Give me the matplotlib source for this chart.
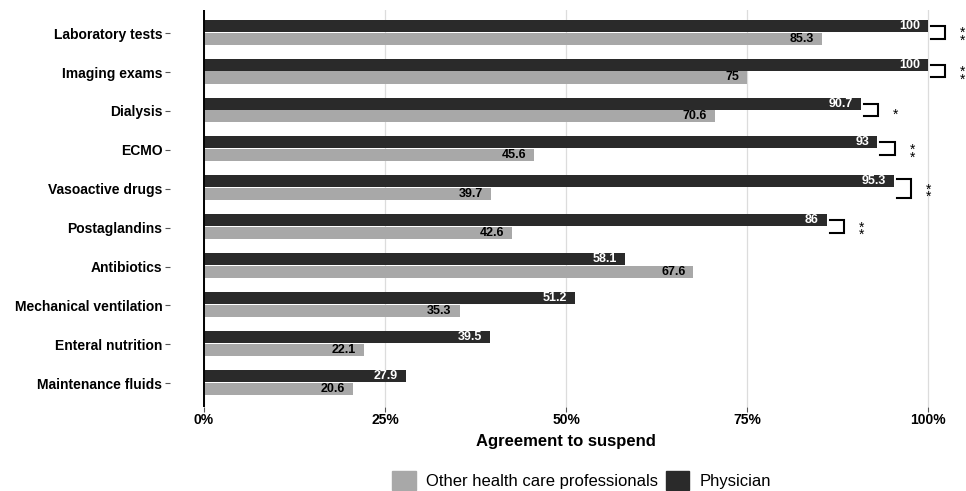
import numpy as np
import matplotlib.pyplot as plt
from matplotlib.patches import Patch

plt.rcParams['font.family'] = ['Liberation Sans', 'DejaVu Sans']

# data
categories = ['Laboratory tests', 'Imaging exams', 'Dialysis', 'ECMO',
              'Vasoactive drugs', 'Postaglandins', 'Antibiotics',
              'Mechanical ventilation', 'Enteral nutrition', 'Maintenance fluids']
physician = [100, 100, 90.7, 93, 95.3, 86, 58.1, 51.2, 39.5, 27.9]
other_hcp = [85.3, 75, 70.6, 45.6, 39.7, 42.6, 67.6, 35.3, 22.1, 20.6]
signif = ['**', '**', '*', '**', '**', '**', '', '', '', '']

c_phys = '#2a2a2a'
c_other = '#a8a8a8'

fig = plt.figure(figsize=(9.66, 4.91), dpi=100)
ax = fig.add_axes([0.176, 0.172, 0.8296, 0.808])

y = np.arange(len(categories))
h = 0.31
y_phys = y - 0.19
y_other = y + 0.14

ax.barh(y_phys, physician, height=h, color=c_phys, zorder=2)
ax.barh(y_other, other_hcp, height=h, color=c_other, zorder=2)

for yp, yo, p, o in zip(y_phys, y_other, physician, other_hcp):
    ax.text(p - 1.1, yp, f'{p:g}', ha='right', va='center', color='white',
            fontsize=9, fontweight='bold', zorder=3)
    ax.text(o - 1.1, yo, f'{o:g}', ha='right', va='center', color='black',
            fontsize=9, fontweight='bold', zorder=3)

# significance brackets, stars stacked vertically
for i, (p, s) in enumerate(zip(physician, signif)):
    if not s:
        continue
    x0 = p + 0.4
    x1 = x0 + 2.0
    if categories[i] == 'Vasoactive drugs':
        top, bot = y_phys[i] - 0.05, y_other[i] + 0.1
    else:
        top, bot = y_phys[i], y_other[i]
    ax.plot([x0, x1, x1, x0], [top, top, bot, bot], color='black', lw=1.5,
            solid_joinstyle='miter', zorder=3, clip_on=False)
    ax.text(x1 + 2.4, (top + bot) / 2 + 0.12, '\n'.join(s), ha='center', va='center',
            fontsize=10, linespacing=0.42, zorder=3)

# zero line
ax.axvline(0, color='black', lw=1.4, zorder=4)

ax.set_xlim(-4.7, 106)
ax.set_ylim(9.6, -0.6)
ax.set_xticks([0, 25, 50, 75, 100])
ax.set_xticklabels(['0%', '25%', '50%', '75%', '100%'], fontsize=10, fontweight='bold')
ax.set_yticks(y)
ax.set_yticklabels(categories, fontsize=10, fontweight='bold')
ax.tick_params(axis='both', colors='#555555', labelcolor='black', length=3.5, width=0.8)
ax.tick_params(axis='y', pad=2)
ax.tick_params(axis='x', pad=1)

ax.grid(axis='x', color='#dcdcdc', lw=0.9, zorder=0)
ax.set_axisbelow(True)
for side in ['top', 'right', 'bottom', 'left']:
    ax.spines[side].set_visible(False)

ax.set_xlabel('Agreement to suspend', fontsize=12, fontweight='bold')
# center the label on the 50% gridline
ax.xaxis.set_label_coords((50 + 4.7) / 110.7, -0.07)

handles = [Patch(color=c_other, label='Other health care professionals'),
           Patch(color=c_phys, label='Physician')]
fig.legend(handles=handles, loc='center', bbox_to_anchor=(0.602, 0.021), ncol=2,
           frameon=False, fontsize=12, handlelength=1.4, handleheight=1.4,
           handletextpad=0.6, columnspacing=0.5)

plt.savefig('out.png', dpi=100)
